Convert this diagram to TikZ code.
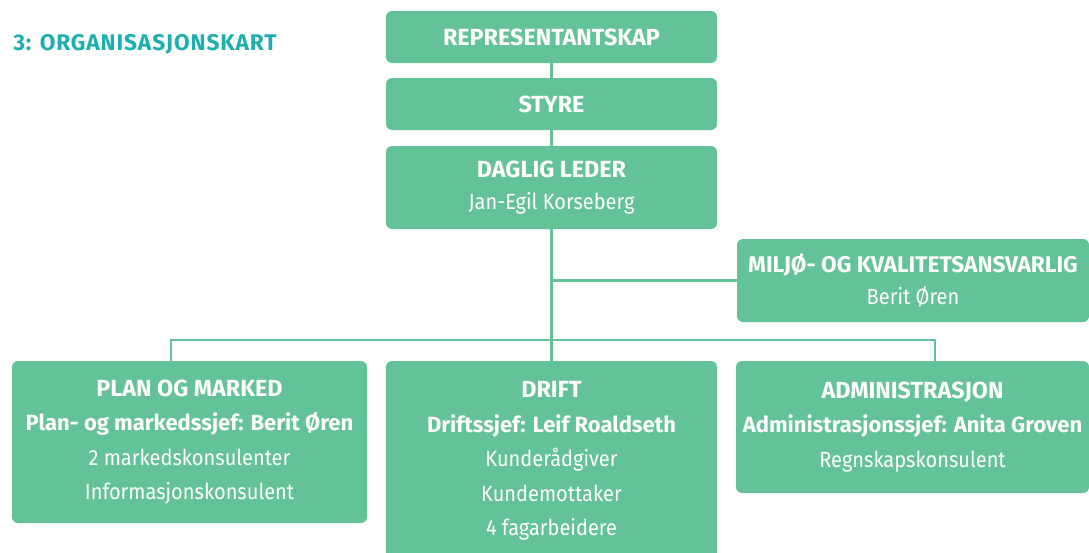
\documentclass[tikz,border=0pt]{standalone}
\usepackage{fontspec}
\setmainfont{Fira Sans}
\newfontfamily\narrowfont{Fira Sans}[FakeStretch=0.91]
\newfontfamily\titlefont{Fira Sans}[LetterSpace=4]
\newcommand{\hd}[1]{{\fontsize{17.5}{25.9}\selectfont\bfseries #1}}
\newcommand{\nm}[1]{{\narrowfont #1}}
\definecolor{boxgreen}{HTML}{63C297}
\definecolor{titleteal}{HTML}{1DAEB0}
\begin{document}
\begin{tikzpicture}[x=0.75pt,y=-0.75pt,
  box/.style={fill=boxgreen, rounded corners=4.5pt, text=white, align=center,
    inner sep=0pt, font=\fontsize{16.5}{25.9}\selectfont},
  conn/.style={draw=boxgreen, line width=2pt}]
\useasboundingbox (0,0) rectangle (1089,553);
\node[anchor=west, inner sep=0pt, text=titleteal, font=\titlefont\fontsize{17}{18}\selectfont\bfseries] (title) at (13,44) {3: ORGANISASJONSKART};
\node[box, minimum width=248.25pt, minimum height=39pt] (rep) at (551.5,37) {\hd{REPRESENTANTSKAP}};
\node[box, minimum width=248.25pt, minimum height=39pt] (styre) at (551.5,104) {\hd{STYRE}};
\node[box, minimum width=248.25pt, minimum height=62.25pt, font=\fontsize{16.5}{23.5}\selectfont] (daglig) at (551.5,187.5) {\hd{DAGLIG LEDER}\\\nm{Jan-Egil Korseberg}};
\node[box, minimum width=264pt, minimum height=62.25pt, font=\fontsize{16.5}{24.5}\selectfont] (miljo) at (913,280.5) {{\fontsize{17}{24.5}\selectfont\bfseries MILJØ- OG KVALITETSANSVARLIG}\\\nm{Berit Øren}};
\node[box, minimum width=266.25pt, minimum height=121.5pt] (plan) at (189.5,442) {\hd{PLAN OG MARKED}\\\textbf{Plan- og markedssjef: Berit Øren}\\\nm{2 markedskonsulenter}\\\nm{Informasjonskonsulent}};
\node[box, minimum width=248.25pt, minimum height=150pt] (drift) at (551.5,461) {\hd{DRIFT}\\\textbf{Driftssjef: Leif Roaldseth}\\\nm{Kunderådgiver}\\\nm{Kundemottaker}\\\nm{4 fagarbeidere}};
\node[box, minimum width=264.75pt, minimum height=99pt] (admin) at (912.5,427) {\hd{ADMINISTRASJON}\\\textbf{Administrasjonssjef: Anita Groven}\\\nm{Regnskapskonsulent}};
\coordinate (bl) at (171,340);
\coordinate (br) at (935,340);
\draw[conn] (rep.south) -- (styre.north);
\draw[conn] (styre.south) -- (daglig.north);
\draw[conn] (daglig.south) -- (drift.north);
\draw[conn] (miljo.west) -- (miljo.west -| daglig.south);
\draw[conn] (bl |- plan.north) -- (bl) -- (br) -- (br |- admin.north);
\end{tikzpicture}
\end{document}
